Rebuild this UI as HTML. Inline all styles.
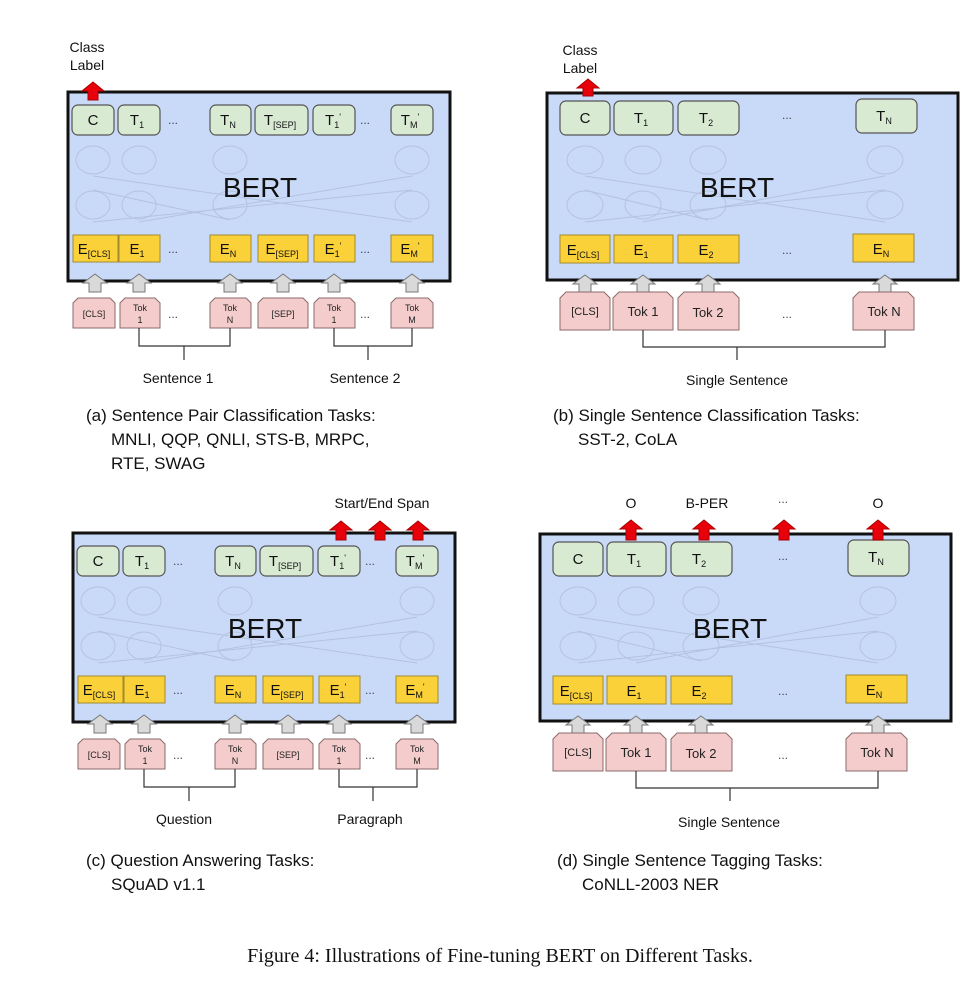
<!DOCTYPE html>
<html><head><meta charset="utf-8"><style>
html,body{margin:0;padding:0;background:#fff;}
svg{display:block;font-family:"Liberation Sans",sans-serif;}
.g{fill:#d9ead3;stroke:#555;stroke-width:1.2;}
.y{fill:#fbd13a;stroke:#a08a30;stroke-width:1;}
.p{fill:#f4cccc;stroke:#8a6a6a;stroke-width:1;}
.ga{fill:#d9d9d9;stroke:#777;stroke-width:1;}
.ra{fill:#e8000b;stroke:#a00;stroke-width:1;}
.bx{fill:#c9daf8;stroke:#111;stroke-width:3;}
.e{fill:none;stroke:#b4c2de;stroke-width:1;}
.ln{stroke:#333;stroke-width:1.2;fill:none;}
.t{font-size:15px;fill:#111;text-anchor:middle;}
.s{font-size:9px;}
.tk{font-size:9px;fill:#222;text-anchor:middle;}
.tb{font-size:13px;fill:#222;text-anchor:middle;}
.d{font-size:12px;fill:#444;text-anchor:middle;}
.lb{font-size:14px;fill:#111;text-anchor:middle;}
.bert{font-size:28px;fill:#111;text-anchor:middle;}
.cap{font-size:17px;fill:#111;}
</style></head><body>
<svg width="980" height="991" viewBox="0 0 980 991">
<!-- ===== Panel A ===== -->
<g id="pa">
<rect class="bx" x="68" y="92" width="382" height="189"/>
<g class="e"><ellipse cx="93" cy="160" rx="17" ry="14"/><ellipse cx="139" cy="160" rx="17" ry="14"/><ellipse cx="230" cy="160" rx="17" ry="14"/><ellipse cx="412" cy="160" rx="17" ry="14"/>
<ellipse cx="93" cy="205" rx="17" ry="14"/><ellipse cx="139" cy="205" rx="17" ry="14"/><ellipse cx="230" cy="205" rx="17" ry="14"/><ellipse cx="412" cy="205" rx="17" ry="14"/>
<path d="M93 222 L412 190 M139 222 L412 176 M93 176 L412 222 M93 190 L230 220"/></g>
<rect class="g" x="72" y="105" width="42" height="30" rx="6"/><text class="t" x="93" y="125">C</text>
<rect class="g" x="118" y="105" width="42" height="30" rx="6"/><text class="t" x="137" y="125">T<tspan class="s" dy="3">1</tspan></text>
<text class="d" x="173" y="124">...</text>
<rect class="g" x="210" y="105" width="41" height="30" rx="6"/><text class="t" x="228" y="125">T<tspan class="s" dy="3">N</tspan></text>
<rect class="g" x="255" y="105" width="53" height="30" rx="6"/><text class="t" x="280" y="125">T<tspan class="s" dy="3">[SEP]</tspan></text>
<rect class="g" x="313" y="105" width="42" height="30" rx="6"/><text class="t" x="333" y="125">T<tspan class="s" dy="3">1</tspan><tspan class="s" dy="-8">'</tspan></text>
<text class="d" x="365" y="124">...</text>
<rect class="g" x="391" y="105" width="42" height="30" rx="6"/><text class="t" x="410" y="125">T<tspan class="s" dy="3">M</tspan><tspan class="s" dy="-8">'</tspan></text>
<text class="bert" x="260" y="197">BERT</text>
<rect class="y" x="73" y="235" width="45" height="27"/><text class="t" x="94" y="254">E<tspan class="s" dy="3">[CLS]</tspan></text>
<rect class="y" x="119" y="235" width="41" height="27"/><text class="t" x="137" y="254">E<tspan class="s" dy="3">1</tspan></text>
<text class="d" x="173" y="253">...</text>
<rect class="y" x="210" y="235" width="41" height="27"/><text class="t" x="228" y="254">E<tspan class="s" dy="3">N</tspan></text>
<rect class="y" x="258" y="235" width="50" height="27"/><text class="t" x="282" y="254">E<tspan class="s" dy="3">[SEP]</tspan></text>
<rect class="y" x="314" y="235" width="41" height="27"/><text class="t" x="333" y="254">E<tspan class="s" dy="3">1</tspan><tspan class="s" dy="-8">'</tspan></text>
<text class="d" x="365" y="253">...</text>
<rect class="y" x="391" y="235" width="42" height="27"/><text class="t" x="410" y="254">E<tspan class="s" dy="3">M</tspan><tspan class="s" dy="-8">'</tspan></text>
<polygon class="ga" points="95,274 107,283 101,283 101,292 89,292 89,283 83,283"/>
<polygon class="ga" points="139,274 151,283 145,283 145,292 133,292 133,283 127,283"/>
<polygon class="ga" points="230,274 242,283 236,283 236,292 224,292 224,283 218,283"/>
<polygon class="ga" points="283,274 295,283 289,283 289,292 277,292 277,283 271,283"/>
<polygon class="ga" points="334,274 346,283 340,283 340,292 328,292 328,283 322,283"/>
<polygon class="ga" points="412,274 424,283 418,283 418,292 406,292 406,283 400,283"/>
<polygon class="p" points="73,303 78,298 110,298 115,303 115,328 73,328"/><text class="tk" x="94" y="317">[CLS]</text>
<polygon class="p" points="120,303 125,298 155,298 160,303 160,328 120,328"/><text class="tk" x="140" y="311">Tok</text><text class="tk" x="140" y="323">1</text>
<text class="d" x="173" y="318">...</text>
<polygon class="p" points="210,303 215,298 246,298 251,303 251,328 210,328"/><text class="tk" x="230" y="311">Tok</text><text class="tk" x="230" y="323">N</text>
<polygon class="p" points="258,303 263,298 303,298 308,303 308,328 258,328"/><text class="tk" x="283" y="317">[SEP]</text>
<polygon class="p" points="314,303 319,298 350,298 355,303 355,328 314,328"/><text class="tk" x="334" y="311">Tok</text><text class="tk" x="334" y="323">1</text>
<text class="d" x="365" y="318">...</text>
<polygon class="p" points="391,303 396,298 428,298 433,303 433,328 391,328"/><text class="tk" x="412" y="311">Tok</text><text class="tk" x="412" y="323">M</text>
<path class="ln" d="M139 328 V346 H230 V328 M184 346 V360 M334 328 V346 H412 V328 M368 346 V360"/>
</g>
<polygon class="ra" points="93,82 104,91 98,91 98,100 88,100 88,91 82,91"/>
<text class="lb" x="87" y="52">Class</text><text class="lb" x="87" y="70">Label</text>
<text class="lb" x="178" y="383">Sentence 1</text>
<text class="lb" x="365" y="383">Sentence 2</text>
<text class="cap" x="86" y="421">(a) Sentence Pair Classification Tasks:</text>
<text class="cap" x="111" y="445">MNLI, QQP, QNLI, STS-B, MRPC,</text>
<text class="cap" x="111" y="469">RTE, SWAG</text>

<!-- ===== Panel B ===== -->
<g>
<rect class="bx" x="547" y="93" width="411" height="187"/>
<g class="e"><ellipse cx="585" cy="160" rx="18" ry="14"/><ellipse cx="643" cy="160" rx="18" ry="14"/><ellipse cx="708" cy="160" rx="18" ry="14"/><ellipse cx="885" cy="160" rx="18" ry="14"/>
<ellipse cx="585" cy="205" rx="18" ry="14"/><ellipse cx="643" cy="205" rx="18" ry="14"/><ellipse cx="708" cy="205" rx="18" ry="14"/><ellipse cx="885" cy="205" rx="18" ry="14"/>
<path d="M585 222 L885 190 M643 222 L885 176 M585 176 L885 222 M585 190 L708 220"/></g>
<rect class="g" x="560" y="101" width="50" height="34" rx="6"/><text class="t" x="585" y="123">C</text>
<rect class="g" x="614" y="101" width="59" height="34" rx="6"/><text class="t" x="641" y="123">T<tspan class="s" dy="3">1</tspan></text>
<rect class="g" x="678" y="101" width="61" height="34" rx="6"/><text class="t" x="706" y="123">T<tspan class="s" dy="3">2</tspan></text>
<text class="d" x="787" y="119">...</text>
<rect class="g" x="856" y="99" width="61" height="34" rx="6"/><text class="t" x="884" y="121">T<tspan class="s" dy="3">N</tspan></text>
<text class="bert" x="737" y="197">BERT</text>
<rect class="y" x="560" y="235" width="50" height="28"/><text class="t" x="583" y="255">E<tspan class="s" dy="3">[CLS]</tspan></text>
<rect class="y" x="614" y="235" width="59" height="28"/><text class="t" x="641" y="255">E<tspan class="s" dy="3">1</tspan></text>
<rect class="y" x="678" y="235" width="61" height="28"/><text class="t" x="706" y="255">E<tspan class="s" dy="3">2</tspan></text>
<text class="d" x="787" y="254">...</text>
<rect class="y" x="853" y="234" width="61" height="28"/><text class="t" x="881" y="254">E<tspan class="s" dy="3">N</tspan></text>
<polygon class="ga" points="585,275 597,284 591,284 591,293 579,293 579,284 573,284"/>
<polygon class="ga" points="643,275 655,284 649,284 649,293 637,293 637,284 631,284"/>
<polygon class="ga" points="708,275 720,284 714,284 714,293 702,293 702,284 696,284"/>
<polygon class="ga" points="885,275 897,284 891,284 891,293 879,293 879,284 873,284"/>
<polygon class="p" points="560,298 566,292 604,292 610,298 610,330 560,330"/><text class="tk" x="585" y="315" style="font-size:11px">[CLS]</text>
<polygon class="p" points="613,298 619,292 667,292 673,298 673,330 613,330"/><text class="tb" x="643" y="316">Tok 1</text>
<polygon class="p" points="678,298 684,292 733,292 739,298 739,330 678,330"/><text class="tb" x="708" y="317">Tok 2</text>
<text class="d" x="787" y="318">...</text>
<polygon class="p" points="853,298 859,292 908,292 914,298 914,330 853,330"/><text class="tb" x="884" y="316">Tok N</text>
<path class="ln" d="M643 330 V347 H885 V330 M737 347 V360"/>
</g>
<polygon class="ra" points="588,79 599,88 593,88 593,96 583,96 583,88 577,88"/>
<text class="lb" x="580" y="55">Class</text><text class="lb" x="580" y="73">Label</text>
<text class="lb" x="737" y="385">Single Sentence</text>
<text class="cap" x="553" y="421">(b) Single Sentence Classification Tasks:</text>
<text class="cap" x="578" y="445">SST-2, CoLA</text>

<!-- ===== Panel C ===== -->
<g transform="translate(5,441)">
<rect class="bx" x="68" y="92" width="382" height="189"/>
<g class="e"><ellipse cx="93" cy="160" rx="17" ry="14"/><ellipse cx="139" cy="160" rx="17" ry="14"/><ellipse cx="230" cy="160" rx="17" ry="14"/><ellipse cx="412" cy="160" rx="17" ry="14"/>
<ellipse cx="93" cy="205" rx="17" ry="14"/><ellipse cx="139" cy="205" rx="17" ry="14"/><ellipse cx="230" cy="205" rx="17" ry="14"/><ellipse cx="412" cy="205" rx="17" ry="14"/>
<path d="M93 222 L412 190 M139 222 L412 176 M93 176 L412 222 M93 190 L230 220"/></g>
<rect class="g" x="72" y="105" width="42" height="30" rx="6"/><text class="t" x="93" y="125">C</text>
<rect class="g" x="118" y="105" width="42" height="30" rx="6"/><text class="t" x="137" y="125">T<tspan class="s" dy="3">1</tspan></text>
<text class="d" x="173" y="124">...</text>
<rect class="g" x="210" y="105" width="41" height="30" rx="6"/><text class="t" x="228" y="125">T<tspan class="s" dy="3">N</tspan></text>
<rect class="g" x="255" y="105" width="53" height="30" rx="6"/><text class="t" x="280" y="125">T<tspan class="s" dy="3">[SEP]</tspan></text>
<rect class="g" x="313" y="105" width="42" height="30" rx="6"/><text class="t" x="333" y="125">T<tspan class="s" dy="3">1</tspan><tspan class="s" dy="-8">'</tspan></text>
<text class="d" x="365" y="124">...</text>
<rect class="g" x="391" y="105" width="42" height="30" rx="6"/><text class="t" x="410" y="125">T<tspan class="s" dy="3">M</tspan><tspan class="s" dy="-8">'</tspan></text>
<text class="bert" x="260" y="197">BERT</text>
<rect class="y" x="73" y="235" width="45" height="27"/><text class="t" x="94" y="254">E<tspan class="s" dy="3">[CLS]</tspan></text>
<rect class="y" x="119" y="235" width="41" height="27"/><text class="t" x="137" y="254">E<tspan class="s" dy="3">1</tspan></text>
<text class="d" x="173" y="253">...</text>
<rect class="y" x="210" y="235" width="41" height="27"/><text class="t" x="228" y="254">E<tspan class="s" dy="3">N</tspan></text>
<rect class="y" x="258" y="235" width="50" height="27"/><text class="t" x="282" y="254">E<tspan class="s" dy="3">[SEP]</tspan></text>
<rect class="y" x="314" y="235" width="41" height="27"/><text class="t" x="333" y="254">E<tspan class="s" dy="3">1</tspan><tspan class="s" dy="-8">'</tspan></text>
<text class="d" x="365" y="253">...</text>
<rect class="y" x="391" y="235" width="42" height="27"/><text class="t" x="410" y="254">E<tspan class="s" dy="3">M</tspan><tspan class="s" dy="-8">'</tspan></text>
<polygon class="ga" points="95,274 107,283 101,283 101,292 89,292 89,283 83,283"/>
<polygon class="ga" points="139,274 151,283 145,283 145,292 133,292 133,283 127,283"/>
<polygon class="ga" points="230,274 242,283 236,283 236,292 224,292 224,283 218,283"/>
<polygon class="ga" points="283,274 295,283 289,283 289,292 277,292 277,283 271,283"/>
<polygon class="ga" points="334,274 346,283 340,283 340,292 328,292 328,283 322,283"/>
<polygon class="ga" points="412,274 424,283 418,283 418,292 406,292 406,283 400,283"/>
<polygon class="p" points="73,303 78,298 110,298 115,303 115,328 73,328"/><text class="tk" x="94" y="317">[CLS]</text>
<polygon class="p" points="120,303 125,298 155,298 160,303 160,328 120,328"/><text class="tk" x="140" y="311">Tok</text><text class="tk" x="140" y="323">1</text>
<text class="d" x="173" y="318">...</text>
<polygon class="p" points="210,303 215,298 246,298 251,303 251,328 210,328"/><text class="tk" x="230" y="311">Tok</text><text class="tk" x="230" y="323">N</text>
<polygon class="p" points="258,303 263,298 303,298 308,303 308,328 258,328"/><text class="tk" x="283" y="317">[SEP]</text>
<polygon class="p" points="314,303 319,298 350,298 355,303 355,328 314,328"/><text class="tk" x="334" y="311">Tok</text><text class="tk" x="334" y="323">1</text>
<text class="d" x="365" y="318">...</text>
<polygon class="p" points="391,303 396,298 428,298 433,303 433,328 391,328"/><text class="tk" x="412" y="311">Tok</text><text class="tk" x="412" y="323">M</text>
<path class="ln" d="M139 328 V346 H230 V328 M184 346 V360 M334 328 V346 H412 V328 M368 346 V360"/>
</g>
<polygon class="ra" points="341,521 352,530 346,530 346,540 336,540 336,530 330,530"/>
<polygon class="ra" points="380,521 391,530 385,530 385,540 375,540 375,530 369,530"/>
<polygon class="ra" points="418,521 429,530 423,530 423,540 413,540 413,530 407,530"/>
<text class="lb" x="382" y="508">Start/End Span</text>
<text class="lb" x="184" y="824">Question</text>
<text class="lb" x="370" y="824">Paragraph</text>
<text class="cap" x="86" y="866">(c) Question Answering Tasks:</text>
<text class="cap" x="111" y="890">SQuAD v1.1</text>

<!-- ===== Panel D ===== -->
<g transform="translate(-7,441)">
<rect class="bx" x="547" y="93" width="411" height="187"/>
<g class="e"><ellipse cx="585" cy="160" rx="18" ry="14"/><ellipse cx="643" cy="160" rx="18" ry="14"/><ellipse cx="708" cy="160" rx="18" ry="14"/><ellipse cx="885" cy="160" rx="18" ry="14"/>
<ellipse cx="585" cy="205" rx="18" ry="14"/><ellipse cx="643" cy="205" rx="18" ry="14"/><ellipse cx="708" cy="205" rx="18" ry="14"/><ellipse cx="885" cy="205" rx="18" ry="14"/>
<path d="M585 222 L885 190 M643 222 L885 176 M585 176 L885 222 M585 190 L708 220"/></g>
<rect class="g" x="560" y="101" width="50" height="34" rx="6"/><text class="t" x="585" y="123">C</text>
<rect class="g" x="614" y="101" width="59" height="34" rx="6"/><text class="t" x="641" y="123">T<tspan class="s" dy="3">1</tspan></text>
<rect class="g" x="678" y="101" width="61" height="34" rx="6"/><text class="t" x="706" y="123">T<tspan class="s" dy="3">2</tspan></text>
<text class="d" x="790" y="119">...</text>
<rect class="g" x="855" y="99" width="61" height="36" rx="6"/><text class="t" x="883" y="121">T<tspan class="s" dy="3">N</tspan></text>
<text class="bert" x="737" y="197">BERT</text>
<rect class="y" x="560" y="235" width="50" height="28"/><text class="t" x="583" y="255">E<tspan class="s" dy="3">[CLS]</tspan></text>
<rect class="y" x="614" y="235" width="59" height="28"/><text class="t" x="641" y="255">E<tspan class="s" dy="3">1</tspan></text>
<rect class="y" x="678" y="235" width="61" height="28"/><text class="t" x="706" y="255">E<tspan class="s" dy="3">2</tspan></text>
<text class="d" x="790" y="254">...</text>
<rect class="y" x="853" y="234" width="61" height="28"/><text class="t" x="881" y="254">E<tspan class="s" dy="3">N</tspan></text>
<polygon class="ga" points="585,275 597,284 591,284 591,293 579,293 579,284 573,284"/>
<polygon class="ga" points="643,275 655,284 649,284 649,293 637,293 637,284 631,284"/>
<polygon class="ga" points="708,275 720,284 714,284 714,293 702,293 702,284 696,284"/>
<polygon class="ga" points="885,275 897,284 891,284 891,293 879,293 879,284 873,284"/>
<polygon class="p" points="560,298 566,292 604,292 610,298 610,330 560,330"/><text class="tk" x="585" y="315" style="font-size:11px">[CLS]</text>
<polygon class="p" points="613,298 619,292 667,292 673,298 673,330 613,330"/><text class="tb" x="643" y="316">Tok 1</text>
<polygon class="p" points="678,298 684,292 733,292 739,298 739,330 678,330"/><text class="tb" x="708" y="317">Tok 2</text>
<text class="d" x="790" y="318">...</text>
<polygon class="p" points="853,298 859,292 908,292 914,298 914,330 853,330"/><text class="tb" x="884" y="316">Tok N</text>
<path class="ln" d="M643 330 V347 H885 V330 M737 347 V360"/>
</g>
<polygon class="ra" points="631,520 642,529 636,529 636,540 626,540 626,529 620,529"/>
<polygon class="ra" points="704,520 715,529 709,529 709,540 699,540 699,529 693,529"/>
<polygon class="ra" points="784,520 795,529 789,529 789,540 779,540 779,529 773,529"/>
<polygon class="ra" points="878,520 889,529 883,529 883,540 873,540 873,529 867,529"/>
<text class="lb" x="631" y="508">O</text>
<text class="lb" x="707" y="508">B-PER</text>
<text class="d" x="783" y="503">...</text>
<text class="lb" x="878" y="508">O</text>
<text class="lb" x="729" y="827">Single Sentence</text>
<text class="cap" x="557" y="866">(d) Single Sentence Tagging Tasks:</text>
<text class="cap" x="582" y="890">CoNLL-2003 NER</text>

<text x="500" y="962" style="font-family:'Liberation Serif',serif;font-size:20px;fill:#111;text-anchor:middle">Figure 4: Illustrations of Fine-tuning BERT on Different Tasks.</text>
</svg>
</body></html>
